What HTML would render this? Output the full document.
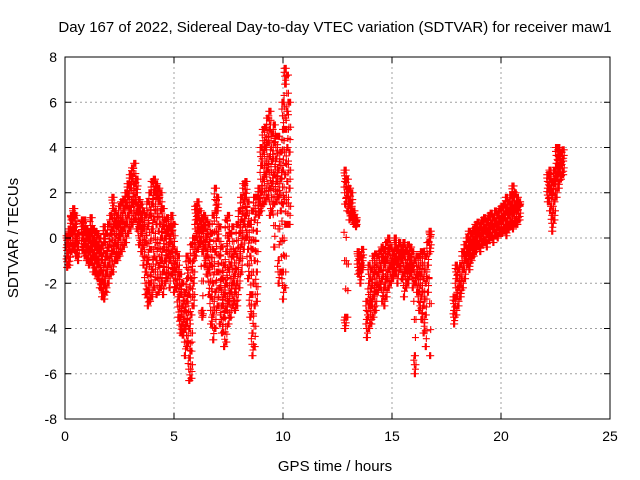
<!DOCTYPE html>
<html><head><meta charset="utf-8"><style>
body{margin:0;background:#fff}
svg{display:block;font-family:"Liberation Sans",sans-serif}
</style></head><body>
<svg id="chart" width="640" height="480">
<text x="335" y="32" font-size="15" text-anchor="middle">Day 167 of 2022, Sidereal Day-to-day VTEC variation (SDTVAR) for receiver maw1</text>
<g id="grid"></g><g id="pts"></g><g id="axes"></g>
<text x="335" y="471" font-size="15" text-anchor="middle">GPS time / hours</text>
<text x="18" y="238" font-size="15" text-anchor="middle" transform="rotate(-90 18 238)">SDTVAR / TECUs</text>
</svg>
<script>
const xTicks=[0,5,10,15,20,25];
const yTicks=[-8,-6,-4,-2,0,2,4,6,8];
// rows: [time, value, value, ...]
const rows=[
[0.1,-1.3,-0.8,-0.3,0.1],[0.2,-1.2,-0.5,0,0.4],[0.3,-0.6,0.2,0.8,1.0],[0.4,-0.5,0.3,0.9,1.3],[0.5,-0.8,-0.2,0.5,1.0],[0.6,-1.0,-0.4,0.2],
[0.8,-0.5,0,0.5,0.8],[0.9,-0.8,-0.3,0.3,0.8],[1.0,-1.0,-0.5,0,0.4],[1.1,-1.2,-0.6,-0.1,0.3],[1.2,-1.1,-0.4,0.2,0.9],[1.3,-1.5,-0.8,-0.2,0.4],
[1.4,-1.6,-1.0,-0.4,0.3],[1.5,-1.8,-1.1,-0.5,0.2],[1.6,-2.2,-1.5,-0.7,0],[1.7,-2.6,-1.9,-1.0,-0.3],[1.8,-2.7,-2.0,-1.2,-0.2,0.5],[1.9,-2.4,-1.6,-0.8,0.2],
[2.0,-2.0,-1.2,-0.4,0.6],[2.1,-1.6,-0.8,0.2,1.0],[2.2,-1.5,-0.6,0.4,1.3,1.8],[2.3,-1.0,-0.2,0.6,1.2],[2.4,-1.0,-0.3,0.5,1.0],[2.5,-0.8,0,0.6,1.4],
[2.6,-0.6,0.2,0.8,1.6],[2.7,-0.4,0.4,1.2,1.7],[2.8,-0.2,0.6,1.4,2.0],[2.9,0.2,1.0,1.8,2.4],[3.0,0.4,1.2,2.2,2.8],[3.1,0.6,1.6,2.6,3.1],
[3.2,0.8,1.6,2.4,3.3],[3.3,0.4,1.2,2.0,2.6],[3.4,-0.3,0.5,1.2,1.7],[3.5,-0.6,0.2,0.9,1.5],[3.6,-1.2,-0.4,0.4,1.2],[3.7,-2.5,-1.5,-0.2,1.0],
[3.8,-3.0,-2.3,-1.0,0.5,1.6],[3.9,-2.8,-2.0,-0.5,1.0,2.0],[4.0,-2.6,-1.4,0.4,1.5,2.5],[4.1,-2.2,-0.8,0.8,2.0,2.6],[4.2,-2.5,-1.0,0.6,1.8,2.4],[4.3,-2.4,-1.2,0.3,1.6,2.2],
[4.4,-2.2,-1.0,0,1.2,2.0],[4.5,-2.5,-1.5,-0.5,0.5,1.3],[4.6,-2.0,-1.0,0,0.8],[4.7,-1.8,-0.8,0.2,0.9],[4.8,-2.2,-1.0,-0.2,0.5],[4.9,-1.6,-0.6,0.3,1.0],
[5.0,-2.4,-1.4,-0.4,0.6],[5.1,-2.2,-1.4,-0.6],[5.2,-3.5,-2.6,-1.6,-0.8],[5.3,-4.2,-3.5,-2.5,-1.6],[5.4,-4.3,-3.8,-3.0,-2.0],[5.5,-5.2,-4.0,-3.2,-2.4],
[5.6,-4.8,-3.8,-2.8,-1.8,-0.8],[5.7,-6.3,-5.3,-4.0,-2.5,-1.0],[5.8,-6.2,-5.0,-3.4,-1.8,-0.3],[5.9,-3.0,-2.0,-1.0,0],[6.0,-0.8,0,0.8,1.4],[6.1,-0.5,0.3,1.0,1.6],
[6.2,-0.3,0.4,1.2],[6.3,-3.5,-3.2,-0.6,0.3,0.9],[6.4,-1.2,-0.4,0.4,1.0],[6.5,-1.6,-0.8,0,0.8],[6.6,-2.5,-1.4,-0.3,0.6],[6.7,-3.8,-2.6,-1.2,0.2],
[6.8,-4.5,-3.4,-2.0,-0.5,1.0],[6.9,-4.0,-2.4,-0.6,1.2,2.2],[7.0,-3.0,-1.5,0,1.2,1.8],[7.1,-3.8,-2.2,-0.8,0.5],[7.2,-4.2,-3.0,-1.8,-0.4],[7.3,-4.8,-3.5,-2.5,-1.2],
[7.4,-4.6,-3.2,-2.0,-0.6,0.8],[7.5,-3.8,-2.8,-1.4,0,1.0],[7.6,-3.5,-2.4,-1.2,0.2],[7.7,-3.0,-2.0,-0.8,0.5],[7.8,-3.2,-2.4,-1.6,-0.6],[7.9,-3.0,-2.0,-0.8,0.6],
[8.0,-2.2,-1.0,0.2,1.2],[8.1,-1.5,-0.3,0.8,1.8],[8.2,-0.5,0.6,1.6,2.4],[8.3,0,1.0,1.8,2.5],[8.4,-1.8,-0.5,0.6,1.6],[8.5,-3.5,-2.5,-0.8,0.6],
[8.6,-5.2,-4.2,-2.5,-0.5,1.2],[8.7,-4.8,-3.0,-1.0,0.8,1.8],[8.8,-2.8,-1.5,0.3,1.8],[8.9,1.0,1.6,2.2],[9.0,1.2,2.0,3.2,4.0],[9.1,1.5,2.6,3.8,4.8],
[9.2,1.6,2.8,4.0,4.9],[9.3,1.8,3.0,4.2,5.3],[9.4,1.0,2.2,3.6,4.8,5.6],[9.5,1.2,2.4,3.4,4.6],[9.6,-0.4,1.5,2.8,4.2,5.0],[9.7,1.6,2.5,3.5,4.5],
[9.8,-2.0,-1.0,1.8,3.0,4.5],[9.9,-1.5,1.2,2.6,3.8],[10.0,-2.7,-1.5,1.5,3.0,4.8,6.0],[10.1,-2.2,0.6,2.8,4.8,6.8,7.5],[10.2,0.6,2.5,4.0,5.6,7.2],[10.3,0.6,2.2,3.8,6.0],
[12.85,-4.0,-3.5,1.5,2.5,3.0],[12.95,-3.5,1.2,2.0,2.6],[13.05,0.8,1.5,2.2],[13.15,1.0,1.4,2.0],[13.25,0.6,0.9,1.2],[13.35,0.5,0.7,0.9],
[13.45,-1.6,-1.0,-0.6],[13.55,-2.0,-1.4,-0.8],[13.65,-1.4,-1.0,-0.5],[13.85,-4.4,-3.6,-2.8],[13.95,-4.0,-3.0,-2.0,-1.2],[14.05,-3.8,-3.0,-2.2,-1.4],
[14.15,-3.5,-2.6,-1.6,-0.8],[14.25,-3.2,-2.4,-1.5,-0.7],[14.35,-2.4,-1.6,-0.8],[14.45,-2.2,-1.4,-0.6],[14.55,-2.8,-1.8,-1.0,-0.4],[14.65,-3.0,-2.2,-1.2,-0.5],
[14.75,-2.6,-1.8,-1.0,-0.2],[14.85,-2.2,-1.4,-0.6,0],[14.95,-2.0,-1.2,-0.4],[15.05,-1.8,-1.2,-0.6],[15.15,-1.6,-1.0,-0.4,0],[15.25,-2.0,-1.2,-0.5],
[15.35,-1.4,-0.8,-0.2],[15.45,-1.8,-1.0,-0.4],[15.55,-2.6,-1.6,-0.8,-0.2],[15.65,-2.2,-1.4,-0.6],[15.75,-2.0,-1.4,-0.8,-0.3],[15.85,-1.6,-1.0,-0.4],
[15.95,-2.2,-1.4,-0.6],[16.05,-6.0,-5.2,-2.0,-1.0],[16.15,-2.4,-1.6,-0.8],[16.25,-3.2,-2.4,-1.6,-0.8],[16.35,-3.6,-2.6,-1.6,-0.6],[16.45,-4.2,-3.0,-1.8,-0.6],
[16.55,-4.8,-3.4,-2.0,-0.8],[16.65,-2.4,-1.2,-0.2],[16.75,-5.2,-0.6,0,0.3],[17.85,-3.8,-3.2,-2.6],[17.95,-3.4,-2.6,-1.8,-1.2],[18.05,-3.0,-2.2,-1.4],
[18.15,-2.6,-2.0,-1.2],[18.25,-2.2,-1.4,-0.6],[18.35,-1.8,-1.0,-0.3],[18.45,-1.2,-0.6,0],[18.55,-1.4,-0.8,-0.2,0.3],[18.65,-1.0,-0.4,0.2],
[18.75,-0.8,-0.2,0.4],[18.85,-0.6,0,0.6],[18.95,-0.4,0.2,0.7],[19.05,-0.6,0,0.5],[19.15,-0.3,0.2,0.8],[19.25,-0.2,0.3,0.9],
[19.35,-0.4,0.2,0.7],[19.45,-0.1,0.4,1.0],[19.55,0,0.5,1.1],[19.65,-0.2,0.4,0.9],[19.75,0.1,0.6,1.2],[19.85,0,0.5,1.0],
[19.95,0.2,0.7,1.3],[20.05,0.2,0.8,1.4],[20.15,0.3,0.9,1.5],[20.25,0.1,0.6,1.2,1.8],[20.35,0.4,1.0,1.6],[20.45,0.5,1.2,1.9],
[20.55,0.4,1.1,1.8,2.3],[20.65,0.6,1.3,2.0],[20.75,0.6,1.2,1.8],[20.85,0.8,1.4,1.6],[22.15,1.6,2.2,2.8],[22.25,1.2,2.0,2.6,3.0],
[22.35,0.3,1.0,1.8,2.5],[22.45,0.8,1.6,2.4,3.0],[22.55,1.8,2.6,3.3,4.0],[22.65,2.2,2.9,3.6,4.0],[22.75,2.6,3.2,3.8],[22.85,2.8,3.4,3.9]
];
const X0=65,X1=610,Y0=419,Y1=57;
const xs=t=>X0+(t-0)/(25-0)*(X1-X0);
const ys=v=>Y0-(v+8)/16*(Y0-Y1);
const NS="http://www.w3.org/2000/svg";
function mk(tag,attrs,parent){const e=document.createElementNS(NS,tag);for(const k in attrs)e.setAttribute(k,attrs[k]);parent.appendChild(e);return e;}
const grid=document.getElementById('grid'),axes=document.getElementById('axes'),pts=document.getElementById('pts');
xTicks.forEach(t=>{
  if(t>0&&t<25){const g=mk('line',{x1:xs(t),x2:xs(t),y1:Y1,y2:Y0,stroke:'#a0a0a0','stroke-dasharray':'2,3'},grid);
  
  }
  mk('line',{x1:xs(t),x2:xs(t),y1:Y0,y2:Y0-6,stroke:'#000'},axes);
  mk('line',{x1:xs(t),x2:xs(t),y1:Y1,y2:Y1+6,stroke:'#000'},axes);
  const l=mk('text',{x:xs(t),y:Y0+22,'font-size':14,'text-anchor':'middle'},axes);l.textContent=t;
  
  
});
yTicks.forEach(v=>{
  if(v>-8&&v<8){const g=mk('line',{x1:X0,x2:X1,y1:ys(v),y2:ys(v),stroke:'#a0a0a0','stroke-dasharray':'2,3'},grid);
  
  }
  mk('line',{x1:X0,x2:X0+6,y1:ys(v),y2:ys(v),stroke:'#000'},axes);
  mk('line',{x1:X1,x2:X1-6,y1:ys(v),y2:ys(v),stroke:'#000'},axes);
  const l=mk('text',{x:X0-8,y:ys(v)+5,'font-size':14,'text-anchor':'end'},axes);l.textContent=v;
  
  
});
const fr=mk('rect',{x:X0,y:Y1,width:X1-X0,height:Y0-Y1,fill:'none',stroke:'#000'},axes);


let d='';
rows.forEach(r=>{const t=r[0];
  for(let i=1;i<r.length;i++){
    const a=r[i],b=(i+1<r.length)?r[i+1]:r[i];
    const m=(a+b)/2;
    // plot each reading with small time-spread copies plus midpoints to mimic marker density
    [[t,a],[t+0.025,a],[t-0.025,a],[t+0.05,m],[t-0.025,m],[t+0.025,(a+m)/2],[t-0.05,(m+b)/2]].forEach(([tt,vv])=>{
      const x=xs(tt),y=ys(vv);d+=`M${x-3.5},${y}h7M${x},${y-3.5}v7`;
    });
  }
});
const p=mk('path',{d:d,stroke:'#ff0000','stroke-width':1.1,fill:'none'},pts);


</script>
</body></html>
